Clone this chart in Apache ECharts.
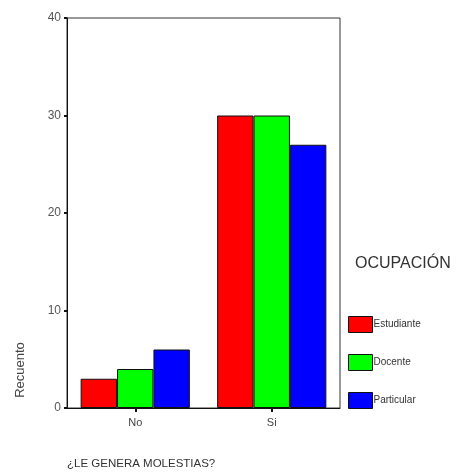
<!DOCTYPE html>
<html><head><meta charset="utf-8">
<script src="https://cdn.jsdelivr.net/npm/echarts@6/dist/echarts.min.js"></script>
<style>html,body{margin:0;padding:0;background:#fff}#c{width:458px;height:475px}</style>
</head><body><div id="c"></div>
<script>
var categories = ['No', 'Si'];
var seriesNames = ['Estudiante', 'Docente', 'Particular'];
var estudiante = [3, 30];
var docente = [4, 30];
var particular = [6, 27];
var colors = ['#ff0000', '#00ff00', '#0000ff'];
var yTicks = [0, 10, 20, 30, 40];

var chart = echarts.init(document.getElementById('c'), null, {renderer: 'canvas'});
var font = 'Liberation Sans, Arial, sans-serif';
function mk(name, data, color) {
  return {
    name: name, type: 'bar', data: data, barGap: '0%', barCategoryGap: '20%',
    itemStyle: {color: color, borderColor: '#111', borderWidth: 1},
    animation: false
  };
}
chart.setOption({
  animation: false,
  grid: {left: 67, top: 18, right: 118, bottom: 67, show: true, borderColor: '#333', borderWidth: 1},
  xAxis: {
    type: 'category', data: categories,
    axisLine: {lineStyle: {color: '#111', width: 1}},
    axisTick: {show: true, alignWithLabel: true, length: 4, lineStyle: {color: '#111', width: 2}},
    axisLabel: {color: '#444', fontSize: 11, fontFamily: font, margin: 9}
  },
  yAxis: {
    type: 'value', min: yTicks[0], max: yTicks[yTicks.length - 1], interval: 10,
    splitLine: {show: false},
    axisLine: {show: true, lineStyle: {color: '#111', width: 1}},
    axisTick: {show: true, length: 3, lineStyle: {color: '#111', width: 2}},
    axisLabel: {color: '#555', fontSize: 12, fontFamily: font, margin: 6}
  },
  legend: {
    orient: 'vertical', left: 343, top: 311, itemWidth: 24, itemHeight: 16, itemGap: 21,
    icon: 'rect', data: seriesNames,
    textStyle: {fontSize: 10, fontFamily: font, color: '#333', padding: [0, 0, 0, -4]},
    itemStyle: {borderColor: '#111', borderWidth: 1}
  },
  graphic: [
    {type: 'text', left: 355, top: 256, style: {text: 'OCUPACIÓN', font: '16px ' + font, fill: '#333'}},
    {type: 'text', left: 67, top: 458, style: {text: '¿LE GENERA MOLESTIAS?', font: '11.5px ' + font, fill: '#333'}},
    {type: 'text', x: 20, y: 370, rotation: Math.PI / 2, style: {text: 'Recuento', font: '13px ' + font, fill: '#444', align: 'center', verticalAlign: 'middle'}}
  ],
  series: [mk(seriesNames[0], estudiante, colors[0]), mk(seriesNames[1], docente, colors[1]), mk(seriesNames[2], particular, colors[2])]
});
</script></body></html>
